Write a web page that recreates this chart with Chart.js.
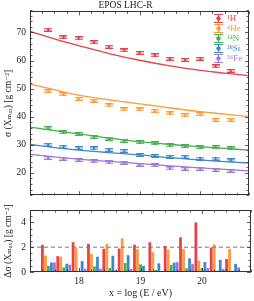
<!DOCTYPE html>
<html>
<head>
<meta charset="utf-8">
<script src="https://cdn.jsdelivr.net/npm/chart.js@4.4.0/dist/chart.umd.min.js"></script>
<style>
body { margin: 0; background: #fff; }
#wrap { position: relative; width: 254px; height: 301px; }
#topChart { position: absolute; left: 0; top: 0; }
#bottomChart { position: absolute; left: 0; top: 190px; }
</style>
</head>
<body>
<div id="wrap">
  <canvas id="topChart" width="254" height="205"></canvas>
  <canvas id="bottomChart" width="254" height="111"></canvas>
</div>
<script>
// energy bins, x = log10(E/eV)
const energies = [17.5, 17.75, 18.0, 18.25, 18.5, 18.75, 19.0, 19.25, 19.5, 19.75, 20.0, 20.25, 20.5];
const species = ['¹H', '⁴He', '¹⁴N', '²⁸Si', '⁵⁶Fe'];
const colors = ['#e4434c', '#ff9b38', '#46b04f', '#3b88cc', '#9c7ad4'];

// sigma(Xmax) reconstructed points
const sigmaH  = [71.0, 68.3, 67.9, 66.5, 64.9, 63.6, 62.7, 61.9, 60.6, 60.2, 60.6, 57.9, 56.3];
const sigmaHe = [49.1, 48.0, 46.3, 45.7, 44.0, 42.6, 42.6, 42.1, 41.2, 40.5, 40.9, 38.8, 38.8];
const sigmaN  = [35.9, 34.4, 33.9, 32.8, 32.2, 31.4, 30.9, 30.5, 29.8, 29.5, 29.1, 29.1, 28.7];
const sigmaSi = [30.0, 29.3, 28.8, 28.7, 28.2, 27.8, 26.4, 26.0, 25.7, 25.7, 25.1, 25.1, 24.4];
const sigmaFe = [25.3, 25.0, 24.6, 24.1, 23.7, 23.6, 22.9, 22.7, 21.6, 21.4, 21.4, 21.0, 20.7];

// model curves
const modelX  = [17.2, 17.6, 18.0, 18.5, 19.0, 19.5, 20.0, 20.4, 20.8];
const modelH  = [70.4, 67.7, 65.3, 62.5, 60.1, 58.1, 56.5, 55.5, 54.6];
const modelHe = [51.6, 49.6, 47.7, 46.0, 44.6, 43.1, 41.8, 40.9, 40.0];
const modelN  = [36.3, 35.0, 33.9, 32.4, 31.1, 30.1, 29.3, 28.7, 28.1];
const modelSi = [30.1, 29.0, 28.1, 27.2, 26.4, 25.4, 24.6, 24.0, 23.5];
const modelFe = [26.6, 25.7, 24.9, 24.1, 23.3, 22.5, 21.8, 21.2, 20.7];

// delta sigma(Xmax)
const deltaH  = [2.19, 1.28, 2.40, 2.27, 1.87, 1.89, 2.20, 2.40, 2.10, 2.80, 4.00, 1.98, 1.05];
const deltaHe = [1.33, 1.23, 1.97, 1.47, 2.27, 2.72, 1.85, 1.60, 1.81, 1.86, 0.92, 2.22, 1.86];
const deltaN  = [0.50, 0.37, 0.05, 0.45, 0.32, 0.72, 0.62, 0.17, 0.56, 0.30, 0.31, 0.11, 0.11];
const deltaSi = [0.77, 0.67, 0.88, 1.23, 1.31, 1.36, 0.50, 0.70, 0.76, 1.10, 0.80, 0.98, 0.66];
const deltaFe = [0.77, 0.59, 0.27, 0.27, 0.16, 0.24, 0.02, 0.08, 0.80, 0.64, 0.32, 0.26, 0.37];

const xTicks = [18, 19, 20];
const yTicksTop = [20, 30, 40, 50, 60, 70];
const yTicksBottom = [0, 2, 4];

const sigmas = [sigmaH, sigmaHe, sigmaN, sigmaSi, sigmaFe];
const models = [modelH, modelHe, modelN, modelSi, modelFe];
const deltas = [deltaH, deltaHe, deltaN, deltaSi, deltaFe];

const serif = "'Liberation Serif', 'DejaVu Serif', serif";
const axisColor = '#333';

// little error-bar glyph used as the point style
function makeGlyph(color, w, h, dot, shade) {
    const c = document.createElement('canvas');
    c.width = w; c.height = h;
    const g = c.getContext('2d');
    g.fillStyle = color;
    if (shade) {
        g.globalAlpha = shade;
        g.fillRect(0, 0, w, h);
        g.globalAlpha = 1;
    }
    g.fillRect(0, 0, w, 1);
    g.fillRect(0, h - 1, w, 1);
    g.fillRect(Math.floor(w / 2), 0, 1, h);
    g.beginPath();
    g.arc(w / 2, h / 2, dot, 0, Math.PI * 2);
    g.fill();
    return c;
}

// ticks pointing inward on all four sides + frame
const inwardTicks = {
    id: 'inwardTicks',
    afterDraw(chart, args, opts) {
        const { ctx, chartArea: a } = chart;
        const x = chart.scales.x, y = chart.scales.y;
        ctx.save();
        ctx.strokeStyle = axisColor;
        ctx.lineWidth = 0.8;
        const mark = (px, py, dx, dy) => {
            ctx.beginPath(); ctx.moveTo(px, py); ctx.lineTo(px + dx, py + dy); ctx.stroke();
        };
        const nx = Math.round((x.max - opts.xStart) / opts.xStep);
        for (let i = 0; i <= nx; i++) {
            const v = opts.xStart + i * opts.xStep;
            const p = Math.round(x.getPixelForValue(v)) + 0.5;
            const len = Math.abs(v - Math.round(v)) < 1e-6 ? 4 : 2.5;
            mark(p, a.bottom, 0, -len);
            mark(p, a.top, 0, len);
        }
        const ny = Math.round((y.max - opts.yStart) / opts.yStep);
        for (let i = 0; i <= ny; i++) {
            const v = opts.yStart + i * opts.yStep;
            const p = Math.round(y.getPixelForValue(v)) + 0.5;
            const len = Math.abs(v / opts.yMajor - Math.round(v / opts.yMajor)) < 1e-6 ? 4 : 2.5;
            mark(a.left, p, len, 0);
            mark(a.right, p, -len, 0);
        }
        ctx.lineWidth = 1;
        ctx.strokeRect(Math.round(a.left) + 0.5, Math.round(a.top) + 0.5,
            Math.round(a.width) - 1, Math.round(a.height) - 1);
        ctx.restore();
    }
};

// legend drawn inside the top right corner
const cornerLegend = {
    id: 'cornerLegend',
    afterDraw(chart) {
        const { ctx, chartArea: a } = chart;
        ctx.save();
        ctx.font = '9px ' + serif;
        ctx.textBaseline = 'middle';
        species.forEach((name, i) => {
            const yc = a.top + 7 + i * 10;
            const glyph = makeGlyph(colors[i], 9, 9, 2.2, 0);
            ctx.drawImage(glyph, a.right - 35, yc - 4.5);
            ctx.fillStyle = colors[i];
            ctx.fillText(name, a.right - 22, yc + 0.5);
        });
        ctx.restore();
    }
};

const tickFont = { family: serif, size: 9.5 };

const topDatasets = [];
models.forEach((m, i) => {
    topDatasets.push({
        type: 'line',
        data: modelX.map((x, k) => ({ x: x, y: m[k] })),
        borderColor: colors[i],
        borderWidth: 1.3,
        pointRadius: 0,
        tension: 0.4,
        order: 2
    });
});
sigmas.forEach((s, i) => {
    topDatasets.push({
        type: 'scatter',
        data: energies.map((e, k) => ({ x: e, y: s[k] })),
        pointStyle: makeGlyph(colors[i], 8, 4, 1.3, 0.3),
        borderColor: colors[i],
        backgroundColor: colors[i],
        order: 1
    });
});

new Chart(document.getElementById('topChart'), {
    data: { datasets: topDatasets },
    options: {
        responsive: false,
        animation: false,
        layout: { padding: { left: 0, right: 3, top: 0, bottom: 6 } },
        plugins: {
            legend: { display: false },
            tooltip: { enabled: false },
            title: {
                display: true,
                text: 'EPOS LHC-R',
                color: '#222',
                font: { family: serif, size: 9.5, weight: 'normal' },
                padding: { top: 0, bottom: 0 }
            },
            inwardTicks: { xStart: 17.2, xStep: 0.2, yStart: 12, yStep: 2, yMajor: 10 }
        },
        scales: {
            x: { type: 'linear', min: 17.2, max: 20.8, display: false },
            y: {
                type: 'linear', min: 12, max: 77.5,
                grid: { display: false, drawTicks: false },
                border: { display: false },
                afterBuildTicks: s => { s.ticks = yTicksTop.map(v => ({ value: v })); },
                afterFit: s => { s.width = 30; },
                ticks: { padding: 4, color: '#222', font: tickFont },
                title: {
                    display: true,
                    text: 'σ (Xₘₐₓ) [g cm⁻²]',
                    color: '#222',
                    font: { family: serif, size: 9.5 },
                    padding: { top: 3, bottom: 0 }
                }
            }
        }
    },
    plugins: [inwardTicks, cornerLegend]
});

const bottomDatasets = deltas.map((d, i) => ({
    type: 'bar',
    data: energies.map((e, k) => ({ x: e, y: d[k] })),
    backgroundColor: colors[i],
    categoryPercentage: 0.98,
    barPercentage: 0.92,
    order: 2
}));
bottomDatasets.push({
    type: 'line',
    data: [{ x: 17.2, y: 2 }, { x: 20.8, y: 2 }],
    borderColor: '#777',
    borderWidth: 1,
    borderDash: [4, 3],
    pointRadius: 0,
    order: 1
});

new Chart(document.getElementById('bottomChart'), {
    type: 'bar',
    data: { datasets: bottomDatasets },
    options: {
        responsive: false,
        animation: false,
        layout: { padding: { left: 0, right: 3, top: 20, bottom: 0 } },
        plugins: {
            legend: { display: false },
            tooltip: { enabled: false },
            inwardTicks: { xStart: 17.2, xStep: 0.2, yStart: 0, yStep: 0.5, yMajor: 2 }
        },
        scales: {
            x: {
                type: 'linear', min: 17.2, max: 20.8, offset: false,
                grid: { display: false, drawTicks: false },
                border: { display: false },
                afterBuildTicks: s => { s.ticks = xTicks.map(v => ({ value: v })); },
                afterFit: s => { s.height = 29; },
                ticks: { padding: 4, color: '#222', font: tickFont, maxRotation: 0 },
                title: {
                    display: true,
                    text: 'x = log (E / eV)',
                    color: '#222',
                    font: { family: serif, size: 10 },
                    padding: { top: 2, bottom: 2 }
                }
            },
            y: {
                type: 'linear', min: 0, max: 5,
                grid: { display: false, drawTicks: false },
                border: { display: false },
                afterBuildTicks: s => { s.ticks = yTicksBottom.map(v => ({ value: v })); },
                afterFit: s => { s.width = 30; },
                ticks: { padding: 4, color: '#222', font: tickFont },
                title: {
                    display: true,
                    text: 'Δσ (Xₘₐₓ) [g cm⁻²]',
                    color: '#222',
                    font: { family: serif, size: 9.5 },
                    padding: { top: 3, bottom: 0 }
                }
            }
        }
    },
    plugins: [inwardTicks]
});
</script>
</body>
</html>
